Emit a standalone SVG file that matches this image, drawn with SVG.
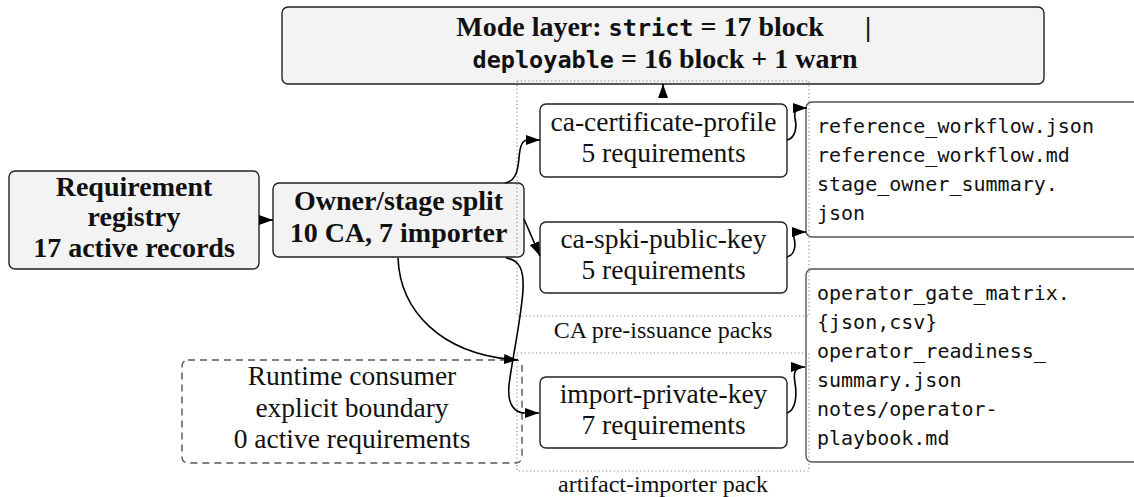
<svg xmlns="http://www.w3.org/2000/svg" width="1134" height="497" viewBox="0 0 1134 497">
<defs>
<marker id="ah" markerUnits="userSpaceOnUse" markerWidth="14" markerHeight="10" refX="14" refY="5" orient="auto">
<path d="M0,0 L14,5 L0,10 z" fill="#000"/>
</marker>
<style>
.box{stroke:#222;stroke-width:1.4}
.gray{fill:#f3f3f3}
.white{fill:#fff}
.file{fill:#fff;stroke:#555;stroke-width:1.4}
.dash{fill:none;stroke:#555;stroke-width:1.4;stroke-dasharray:7 5}
.clu{fill:none;stroke:#888;stroke-width:1.1;stroke-dasharray:1.2 2.6}
.b{font-family:"Liberation Serif","DejaVu Serif",serif;font-weight:bold;font-size:28px;fill:#111}
.r{font-family:"Liberation Serif","DejaVu Serif",serif;font-size:27.5px;fill:#111}
.lab{font-family:"Liberation Serif","DejaVu Serif",serif;font-size:24px;fill:#111}
.tt{font-family:"DejaVu Sans Mono","Liberation Mono",monospace;font-weight:bold;font-size:23.5px}
.mono{font-family:"DejaVu Sans Mono","Liberation Mono",monospace;font-size:20px;fill:#111}
.edge{fill:none;stroke:#000;stroke-width:1.6;marker-end:url(#ah)}
</style>
</defs>
<rect width="1134" height="497" fill="#fff"/>

<g id="mode">
<rect class="box gray" x="282" y="7" width="762" height="77" rx="6"/>
<text class="b" x="640" y="36" text-anchor="middle">Mode layer: <tspan class="tt">strict</tspan> = 17 block</text>
<text class="b" x="868" y="36" text-anchor="middle">|</text>
<text class="b" x="665" y="68" text-anchor="middle"><tspan class="tt">deployable</tspan> = 16 block + 1 warn</text>
</g>

<g id="registry">
<rect class="box gray" x="9" y="171" width="250" height="98" rx="6"/>
<text class="b" x="134" y="196" text-anchor="middle">Requirement</text>
<text class="b" x="134" y="226" text-anchor="middle">registry</text>
<text class="b" x="134" y="257" text-anchor="middle">17 active records</text>
</g>

<g id="owner">
<rect class="box gray" x="273" y="183" width="251" height="74" rx="6"/>
<text class="b" x="398.5" y="210" text-anchor="middle">Owner/stage split</text>
<text class="b" x="398.5" y="242" text-anchor="middle">10 CA, 7 importer</text>
</g>

<g id="ca-certificate-profile">
<rect class="box white" x="540" y="104" width="247" height="73" rx="6"/>
<text class="r" x="663.5" y="131" text-anchor="middle">ca-certificate-profile</text>
<text class="r" x="663.5" y="162" text-anchor="middle">5 requirements</text>
</g>

<g id="ca-spki-public-key">
<rect class="box white" x="540" y="222" width="247" height="71" rx="6"/>
<text class="r" x="663.5" y="248" text-anchor="middle">ca-spki-public-key</text>
<text class="r" x="663.5" y="279" text-anchor="middle">5 requirements</text>
</g>

<g id="import-private-key">
<rect class="box white" x="540" y="377" width="247" height="71" rx="6"/>
<text class="r" x="663.5" y="403" text-anchor="middle">import-private-key</text>
<text class="r" x="663.5" y="434" text-anchor="middle">7 requirements</text>
</g>

<g id="runtime">
<rect class="dash" x="182" y="360" width="340" height="103" rx="6"/>
<text class="r" x="352" y="385" text-anchor="middle">Runtime consumer</text>
<text class="r" x="352" y="417" text-anchor="middle">explicit boundary</text>
<text class="r" x="352" y="448" text-anchor="middle">0 active requirements</text>
</g>

<g id="ca-files">
<rect class="file" x="806" y="102" width="340" height="135" rx="6"/>
<text class="mono" x="817" y="133">reference_workflow.json</text>
<text class="mono" x="817" y="162">reference_workflow.md</text>
<text class="mono" x="817" y="191">stage_owner_summary.</text>
<text class="mono" x="817" y="220">json</text>
</g>

<g id="importer-files">
<rect class="file" x="806" y="269" width="340" height="193" rx="6"/>
<text class="mono" x="817" y="300">operator_gate_matrix.</text>
<text class="mono" x="817" y="329">{json,csv}</text>
<text class="mono" x="817" y="358">operator_readiness_</text>
<text class="mono" x="817" y="387">summary.json</text>
<text class="mono" x="817" y="416">notes/operator-</text>
<text class="mono" x="817" y="445">playbook.md</text>
</g>

<g id="cluster-ca">
<rect class="clu" x="517" y="81" width="292" height="235"/>
<text class="lab" x="663" y="338" text-anchor="middle">CA pre-issuance packs</text>
</g>

<g id="cluster-importer">
<rect class="clu" x="517" y="353" width="292" height="118"/>
<text class="lab" x="663" y="492" text-anchor="middle">artifact-importer pack</text>
</g>

<g id="connectors">
<path class="edge" d="M259,220 L273,220"/>
<path class="edge" d="M505,183 C516,181 518,170 519,158 C520,146 522,140 528,140 L540,140"/>
<path class="edge" d="M524,219 L540,256"/>
<path class="edge" d="M506,258 C520,260 524,270 523,290 C521,320 512,360 509,385 C507,405 515,413 525,413 L539,413"/>
<path class="edge" d="M398,258 C400,310 440,355 518,360"/>
<path class="edge" d="M787,140 C796,138 797,126 795,118 C794,112 795,108 807,108"/>
<path class="edge" d="M787,257 C795,255 796,245 794,238 C793,234 795,232 806,232"/>
<path class="edge" d="M787,413 C796,410 797,395 795,383 C793,372 795,367 805,367"/>
<path class="edge" d="M663,97 L663,84"/>
</g>
</svg>
